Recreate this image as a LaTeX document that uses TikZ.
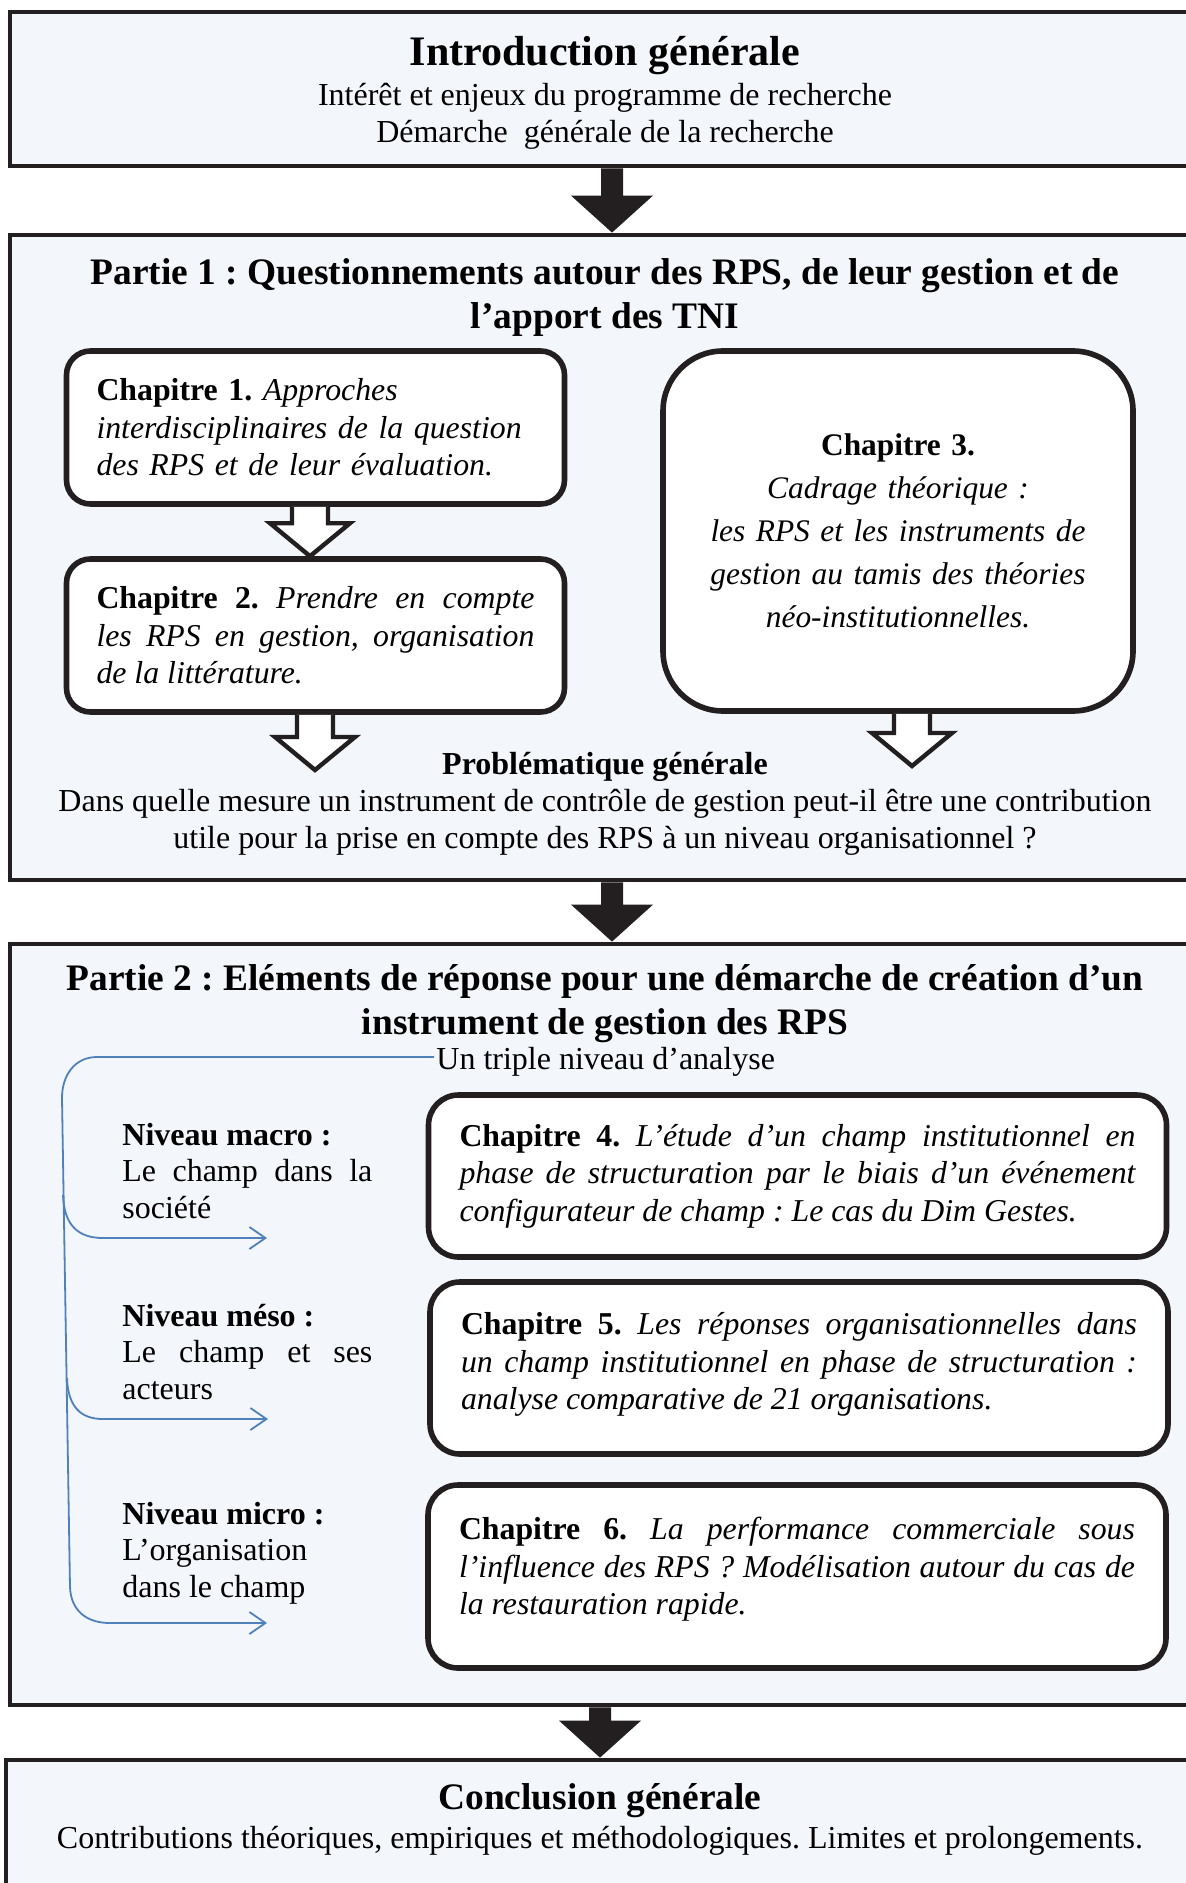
\documentclass[tikz,border=0pt]{standalone}
\usepackage{fontspec}
\setmainfont{Liberation Serif}
\usetikzlibrary{positioning, calc, fit, arrows.meta}
\frenchspacing

\definecolor{fond}{HTML}{F3F6FA}
\definecolor{trait}{HTML}{231F20}
\definecolor{bleu}{HTML}{4F81BD}

\newcommand{\flechepleine}[2]{%
  \fill[trait] ($(#1)+(-11,0)$) -- ($(#2)+(-11,-37)$) -- ($(#2)+(-41,-37)$) -- (#2)
    -- ($(#2)+(41,-37)$) -- ($(#2)+(11,-37)$) -- ($(#1)+(11,0)$) -- cycle;}
\newcommand{\flechecreuse}[2]{%
  \draw[trait, line width=2.2pt, fill=white, line join=miter] ($(#1)+(-18,0)$) -- ($(#2)+(-18,-33)$)
    -- ($(#2)+(-40,-33)$) -- (#2) -- ($(#2)+(40,-33)$) -- ($(#2)+(18,-33)$) -- ($(#1)+(18,0)$);}
\newcommand{\relever}[1]{\par\vspace*{#1}\hrule height 0pt}

\begin{document}
\begin{tikzpicture}[x=0.5pt, y=-0.5pt,
  cadre/.style={draw=trait, line width=2.4pt, fill=fond, inner sep=0pt},
  titre/.style={font=\fontsize{18.7}{22}\selectfont\bfseries, align=center, yshift=-2pt},
  corps/.style={font=\fontsize{16}{18.5}\selectfont, align=center, yshift=-2pt},
  chap/.style={draw=trait, line width=2.8pt, fill=white, rounded corners=12pt, inner xsep=15pt, inner ysep=0pt, font=\fontsize{15.9}{18.75}\selectfont},
  niveau/.style={anchor=west, inner sep=0pt, text width=125pt, align=justify, font=\fontsize{16}{18.2}\selectfont},
  accolade/.style={draw=bleu, line width=0.9pt, -{Straight Barb[length=8pt,width=11pt]}}]
\useasboundingbox (0,0) rectangle (1185,1883);

\node[cadre, fit={(10,12) (1200,166)}] (intro) {};
\node[cadre, fit={(10,235) (1200,880)}] (p1) {};
\node[cadre, fit={(10,944) (1200,1705)}] (p2) {};
\node[cadre, fit={(6,1760) (1200,1900)}] (concl) {};

\node[titre, font=\fontsize{21}{24}\selectfont\bfseries] (introT) at (605,52) {Introduction générale};
\node[corps] (introL1) at (605,94) {Intérêt et enjeux du programme de recherche};
\node[corps] (introL2) at (605,131) {Démarche\ \ générale de la recherche};

\node[titre] (p1T) at (605,294) {Partie 1 : Questionnements autour des RPS, de leur gestion et de\\ l’apport des TNI};

\node[chap, text width=219pt, align=left, minimum height=76.5pt] (c1) at (315.5,427.5)
  {\textbf{Chapitre 1.} \textit{Approches}\\ \textit{interdisciplinaires de la question}\\ \textit{des RPS et de leur évaluation.}};
\node[chap, text width=219pt, align=justify, minimum height=76.5pt] (c2) at (315.5,635.5)
  {\textbf{Chapitre 2.} \textit{Prendre en compte\linebreak les RPS en gestion, organisation\linebreak de la littérature.}};
\node[chap, rounded corners=30pt, text width=205pt, align=center, minimum height=180pt, font=\fontsize{15.7}{21.5}\selectfont] (c3) at (898,531)
  {\textbf{Chapitre 3.}\\ \textit{Cadrage théorique :}\\ \textit{les RPS et les instruments de}\\ \textit{gestion au tamis des théories}\\ \textit{néo-institutionnelles.}};

\node[corps] (pb) at (605,800) {\textbf{Problématique générale}\\ Dans quelle mesure un instrument de contrôle de gestion peut-il être une contribution\\ utile pour la prise en compte des RPS à un niveau organisationnel ?};
\coordinate (pb1) at (315,770);
\coordinate (pb2) at (912,766);

\node[titre] (p2T) at (605,1000) {Partie 2 : Eléments de réponse pour une démarche de création d’un\\ instrument de gestion des RPS};
\node[corps, anchor=west, inner sep=1pt] (triple) at (434,1058) {Un triple niveau d’analyse};

\node[niveau] (macro) at (122,1171) {\textbf{Niveau macro :}\\ Le champ dans la\linebreak société};
\node[niveau] (meso) at (122,1352) {\textbf{Niveau méso :}\\ Le champ et ses\linebreak acteurs};
\node[niveau] (micro) at (122,1553) {\textbf{Niveau micro :}\\ L’organisation\\ dans le champ};

\node[chap, rounded corners=15pt, text width=338pt, inner xsep=15.5pt, align=justify, minimum height=81pt] (c4) at (797.5,1176)
  {\textbf{Chapitre 4.} \textit{L’étude d’un champ institutionnel en\linebreak phase de structuration par le biais d’un événement\linebreak configurateur de champ : Le cas du Dim Gestes.}};
\node[chap, rounded corners=15pt, text width=338pt, inner xsep=15.5pt, align=justify, minimum height=86pt] (c5) at (799,1368)
  {\textbf{Chapitre 5.} \textit{Les réponses organisationnelles dans\linebreak un champ institutionnel en phase de structuration :\linebreak analyse comparative de 21 organisations.}\relever{3.5pt}};
\node[chap, rounded corners=15pt, text width=338pt, inner xsep=15.5pt, align=justify, minimum height=91.5pt] (c6) at (797,1576.5)
  {\textbf{Chapitre 6.} \textit{La performance commerciale sous\linebreak l’influence des RPS ? Modélisation autour du cas de\linebreak la restauration rapide.}\relever{7pt}};

\node[titre] (conclT) at (600,1797) {Conclusion générale};
\node[corps] (conclL) at (600,1837) {Contributions théoriques, empiriques et méthodologiques. Limites et prolongements.};

\coordinate (f1) at (612,0);
\coordinate (f3) at (600,0);
\flechepleine{intro.south -| f1}{p1.north -| f1}
\flechepleine{p1.south -| f1}{p2.north -| f1}
\flechepleine{p2.south -| f3}{concl.north -| f3}

\coordinate (h1) at (310,0);
\flechecreuse{c1.south -| h1}{c2.north -| h1}
\flechecreuse{c2.south -| pb1}{pb1}
\flechecreuse{c3.south -| pb2}{pb2}

\coordinate (b1) at (63,1195);
\coordinate (b2) at (67,1378);
\coordinate (m1) at (267,1238);
\coordinate (m2) at (268,1419);
\coordinate (m3) at (267,1623);
\draw[accolade] ($(triple.west)+(0,-5)$) -- (97,1057) .. controls (75,1057) and (62,1075) .. (62,1098)
  -- (70,1587) .. controls (71,1612) and (88,1623) .. (110,1623) -- (m3);
\draw[accolade] (b1) .. controls (64,1225) and (78,1238) .. (103,1238) -- (m1);
\draw[accolade] (b2) .. controls (68,1406) and (80,1419) .. (103,1419) -- (m2);
\end{tikzpicture}
\end{document}
